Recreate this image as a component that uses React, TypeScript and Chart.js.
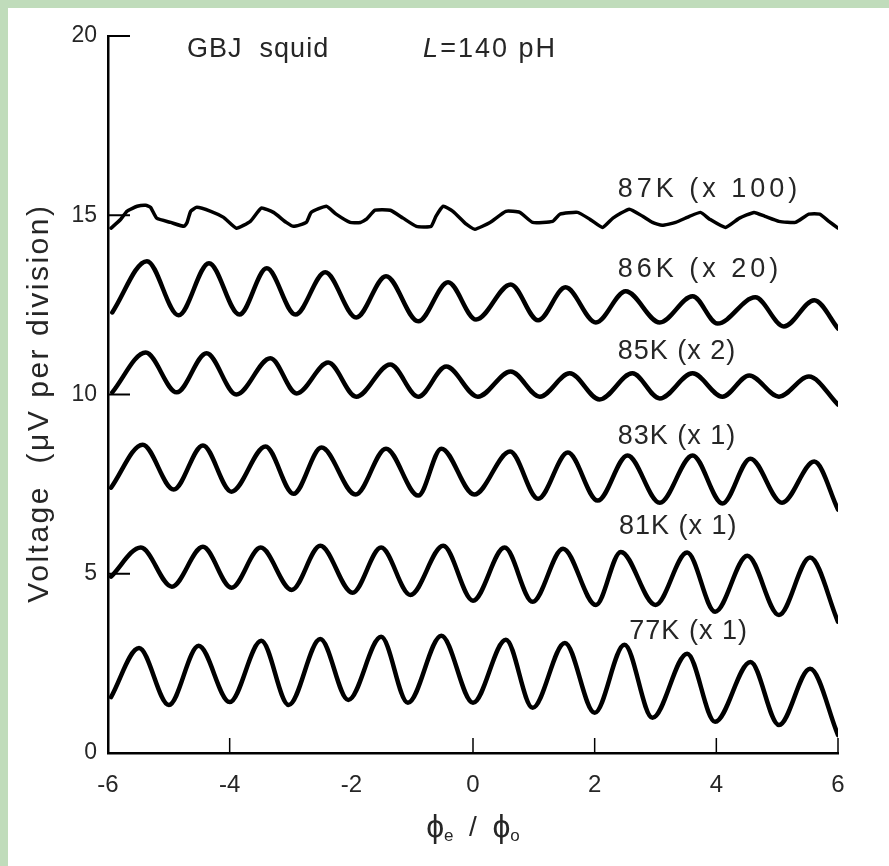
import React, { useEffect, useRef } from "react";
import { Chart, registerables } from "chart.js";

Chart.register(...registerables);

// ---- data (x = Φe/Φ0, y = voltage in divisions) ----
const xTickValues = [-6, -4, -2, 0, 2, 4, 6];
const yTickValues = [0, 5, 10, 15, 20];
const xInnerTicks = [-4, 0, 2, 4, 6];
const yInnerTicks = [5, 10, 15, 20];

const seriesLabels = ["77K (x 1)", "81K (x 1)", "83K (x 1)", "85K (x 2)", "86K (x 20)", "87K (x 100)"];

const trace77K: number[][] = [
  [-5.95, 1.56], [-5.49, 2.93], [-5.0, 1.34], [-4.51, 2.99], [-4.0, 1.42], [-3.48, 3.13],
  [-3.03, 1.34], [-2.51, 3.18], [-2.05, 1.48], [-1.51, 3.24], [-1.07, 1.4], [-0.52, 3.27],
  [0.0, 1.4], [0.54, 3.16], [0.98, 1.26], [1.51, 3.07], [2.0, 1.12], [2.49, 3.02],
  [2.95, 0.98], [3.52, 2.77], [3.98, 0.87], [4.56, 2.54], [5.03, 0.78], [5.54, 2.35],
  [6.0, 0.5],
];

const trace81K: number[][] = [
  [-5.95, 4.92], [-5.46, 5.73], [-4.95, 4.64], [-4.44, 5.75], [-3.97, 4.61], [-3.49, 5.73],
  [-2.98, 4.55], [-2.51, 5.78], [-1.98, 4.47], [-1.51, 5.73], [-1.03, 4.41], [-0.49, 5.78],
  [0.0, 4.25], [0.52, 5.73], [0.98, 4.22], [1.48, 5.7], [2.02, 4.13], [2.43, 5.61],
  [3.0, 4.13], [3.52, 5.59], [3.98, 3.94], [4.51, 5.5], [5.03, 3.85], [5.54, 5.45],
  [6.0, 3.66],
];

const trace83K: number[][] = [
  [-5.95, 7.4], [-5.43, 8.6], [-4.92, 7.35], [-4.44, 8.58], [-3.97, 7.29], [-3.41, 8.55],
  [-2.95, 7.23], [-2.49, 8.52], [-1.93, 7.21], [-1.43, 8.49], [-0.9, 7.18], [-0.52, 8.49],
  [0.02, 7.21], [0.61, 8.41], [1.07, 7.09], [1.56, 8.38], [2.05, 7.04], [2.54, 8.3],
  [3.07, 6.98], [3.61, 8.3], [4.1, 6.96], [4.56, 8.21], [5.08, 6.98], [5.61, 8.13],
  [6.0, 6.79],
];

const trace85K: number[][] = [
  [-5.93, 10.06], [-5.38, 11.17], [-4.87, 10.06], [-4.38, 11.15], [-3.89, 10.0], [-3.33, 11.01],
  [-2.9, 10.03], [-2.38, 10.89], [-1.92, 9.94], [-1.36, 10.84], [-0.9, 9.94], [-0.44, 10.78],
  [0.08, 9.94], [0.62, 10.64], [1.1, 9.94], [1.59, 10.59], [2.08, 9.86], [2.62, 10.59],
  [3.07, 9.89], [3.61, 10.59], [4.1, 9.94], [4.54, 10.53], [5.03, 9.94], [5.52, 10.5],
  [6.0, 9.72],
];

const trace86K: number[][] = [
  [-5.93, 12.29], [-5.36, 13.72], [-4.84, 12.21], [-4.34, 13.66], [-3.84, 12.23], [-3.39, 13.52],
  [-2.92, 12.23], [-2.43, 13.41], [-1.92, 12.15], [-1.43, 13.3], [-0.9, 12.04], [-0.41, 13.13],
  [0.05, 12.09], [0.62, 13.07], [1.07, 12.07], [1.52, 12.99], [2.02, 12.01], [2.51, 12.88],
  [3.07, 12.01], [3.61, 12.74], [4.02, 11.98], [4.64, 12.71], [5.11, 11.9], [5.61, 12.63],
  [6.0, 11.84],
];

const trace87K: number[][] = [
  [-5.95, 14.64], [-5.79, 14.89], [-5.69, 15.11], [-5.52, 15.25], [-5.38, 15.28], [-5.3, 15.22],
  [-5.2, 14.92], [-4.97, 14.8], [-4.75, 14.69], [-4.7, 14.8], [-4.64, 15.11], [-4.54, 15.22],
  [-4.31, 15.11], [-4.1, 14.94], [-3.89, 14.64], [-3.66, 14.83], [-3.48, 15.2], [-3.28, 15.08],
  [-3.07, 14.8], [-2.95, 14.69], [-2.74, 14.8], [-2.66, 15.08], [-2.41, 15.25], [-2.25, 15.03],
  [-2.02, 14.8], [-1.85, 14.8], [-1.75, 14.89], [-1.61, 15.14], [-1.36, 15.14], [-1.15, 14.92],
  [-0.93, 14.69], [-0.69, 14.69], [-0.61, 14.97], [-0.49, 15.25], [-0.33, 15.11], [-0.11, 14.75],
  [0.03, 14.61], [0.28, 14.8], [0.54, 15.11], [0.77, 15.08], [0.98, 14.8], [1.31, 14.83],
  [1.43, 15.03], [1.72, 15.08], [1.92, 14.89], [2.13, 14.66], [2.3, 14.92], [2.57, 15.17],
  [2.79, 14.97], [2.95, 14.8], [3.11, 14.72], [3.33, 14.8], [3.56, 14.97], [3.74, 15.08],
  [3.89, 14.89], [4.15, 14.66], [4.38, 14.92], [4.62, 15.08], [4.8, 14.97], [5.03, 14.83],
  [5.3, 14.8], [5.52, 15.03], [5.7, 15.03], [5.85, 14.83], [6.0, 14.64],
];

// label anchors (data coordinates: left x, middle y)
const seriesLabelX = [2.57, 2.4, 2.38, 2.38, 2.38, 2.38];
const seriesLabelY = [3.38, 6.31, 8.83, 11.2, 13.49, 15.73];

const FONT = "'Liberation Sans', 'DejaVu Sans', sans-serif";
const INK = "#262626";
const labelSpacing = [1, 1, 1, 1, 4, 4];

const toPoints = (arr: number[][]) => arr.map(([x, y]) => ({ x, y }));

const decorPlugin = {
  id: "decor",
  beforeDraw(chart: any) {
    const { ctx, width, height } = chart;
    ctx.save();
    ctx.fillStyle = "#ffffff";
    ctx.fillRect(0, 0, width, height);
    ctx.fillStyle = "#c0dcbb";
    ctx.fillRect(0, 0, 8, height);
    ctx.fillRect(0, 0, width, 8);
    ctx.restore();
  },
  afterDraw(chart: any) {
    const { ctx } = chart;
    const xs = chart.scales.x;
    const ys = chart.scales.y;
    ctx.save();
    ctx.strokeStyle = "#000";
    ctx.lineWidth = 1.5;
    // inward x ticks
    xInnerTicks.forEach((v) => {
      const px = xs.getPixelForValue(v);
      ctx.beginPath();
      ctx.moveTo(px, ys.bottom);
      ctx.lineTo(px, ys.bottom - 15);
      ctx.stroke();
    });
    // inward y ticks
    ctx.lineWidth = 2;
    yInnerTicks.forEach((v) => {
      const py = ys.getPixelForValue(v);
      ctx.beginPath();
      ctx.moveTo(xs.left, py);
      ctx.lineTo(xs.left + 22, py);
      ctx.stroke();
    });
    // series labels
    ctx.fillStyle = INK;
    ctx.font = `27px ${FONT}`;
    ctx.textBaseline = "middle";
    ctx.textAlign = "left";
    seriesLabels.forEach((t, i) => {
      (ctx as any).letterSpacing = `${labelSpacing[i]}px`;
      ctx.fillText(t, xs.getPixelForValue(seriesLabelX[i]), ys.getPixelForValue(seriesLabelY[i]));
    });
    (ctx as any).letterSpacing = "1px";
    // header texts
    const hy = ys.getPixelForValue(19.62);
    ctx.fillText("GBJ  squid", xs.getPixelForValue(-4.7), hy);
    const lx = xs.getPixelForValue(-0.82);
    ctx.font = `italic 27px ${FONT}`;
    ctx.fillText("L", lx, hy);
    const lw = ctx.measureText("L").width;
    ctx.font = `27px ${FONT}`;
    (ctx as any).letterSpacing = "2px";
    ctx.fillText("=140 pH", lx + lw + 1, hy);
    // y-axis title
    ctx.save();
    ctx.translate(40, ys.getPixelForValue(9.76));
    ctx.rotate(-Math.PI / 2);
    ctx.textAlign = "center";
    ctx.font = `30px ${FONT}`;
    (ctx as any).letterSpacing = "2.5px";
    ctx.fillText("Voltage  (μV per division)", 0, 0);
    ctx.restore();
    // x-axis title with subscripts
    const parts: [string, number, number][] = [
      ["ϕ", 32, 0], ["e", 17, 8], ["  /  ", 28, 0], ["ϕ", 32, 0], ["o", 17, 8],
    ];
    (ctx as any).letterSpacing = "0px";
    let total = 0;
    parts.forEach(([t, s]) => {
      ctx.font = `${s}px ${FONT}`;
      total += ctx.measureText(t).width;
    });
    let cx = xs.getPixelForValue(0) - total / 2;
    const ty = 828;
    ctx.textAlign = "left";
    parts.forEach(([t, s, dy]) => {
      ctx.font = `${s}px ${FONT}`;
      ctx.fillText(t, cx, ty + dy);
      cx += ctx.measureText(t).width;
    });
    ctx.restore();
  },
};

export default function App() {
  const ref = useRef<HTMLCanvasElement | null>(null);

  useEffect(() => {
    if (!ref.current) return;
    const mk = (label: string, arr: number[][], smooth: boolean, w: number) => ({
      label,
      data: toPoints(arr),
      borderColor: "#000",
      borderWidth: w,
      pointRadius: 0,
      fill: false,
      cubicInterpolationMode: smooth ? ("monotone" as const) : ("default" as const),
      tension: smooth ? 0.4 : 0.15,
      borderCapStyle: "round" as const,
      borderJoinStyle: "round" as const,
    });
    const chart = new Chart(ref.current, {
      type: "line",
      data: {
        datasets: [
          mk(seriesLabels[0], trace77K, true, 4.5),
          mk(seriesLabels[1], trace81K, true, 4.5),
          mk(seriesLabels[2], trace83K, true, 4.5),
          mk(seriesLabels[3], trace85K, true, 4.5),
          mk(seriesLabels[4], trace86K, true, 4.5),
          mk(seriesLabels[5], trace87K, false, 3.5),
        ],
      },
      options: {
        animation: false,
        responsive: false,
        layout: { padding: { left: 0, top: 36, right: 51, bottom: 0 } },
        plugins: { legend: { display: false }, tooltip: { enabled: false } },
        scales: {
          x: {
            type: "linear",
            min: -6,
            max: 6,
            afterBuildTicks: (s: any) => {
              s.ticks = xTickValues.map((v) => ({ value: v }));
            },
            afterFit: (s: any) => {
              s.height = 113;
            },
            ticks: {
              color: INK,
              font: { family: FONT, size: 24 },
              padding: 18,
              maxRotation: 0,
              callback: (v: any) => String(v),
            },
            grid: { drawOnChartArea: false, drawTicks: false },
            border: { display: true, color: "#000", width: 2.5 },
          },
          y: {
            type: "linear",
            min: 0,
            max: 20,
            afterBuildTicks: (s: any) => {
              s.ticks = yTickValues.map((v) => ({ value: v }));
            },
            afterFit: (s: any) => {
              s.width = 108;
            },
            ticks: {
              color: INK,
              font: { family: FONT, size: 23 },
              padding: 11,
              callback: (v: any) => String(v),
            },
            grid: { drawOnChartArea: false, drawTicks: false },
            border: { display: true, color: "#000", width: 2.5 },
          },
        },
      },
      plugins: [decorPlugin],
    });
    return () => chart.destroy();
  }, []);

  return (
    <div style={{ position: "absolute", left: 0, top: 0, width: 889, height: 866 }}>
      <canvas ref={ref} width={889} height={866} style={{ display: "block" }} />
    </div>
  );
}
